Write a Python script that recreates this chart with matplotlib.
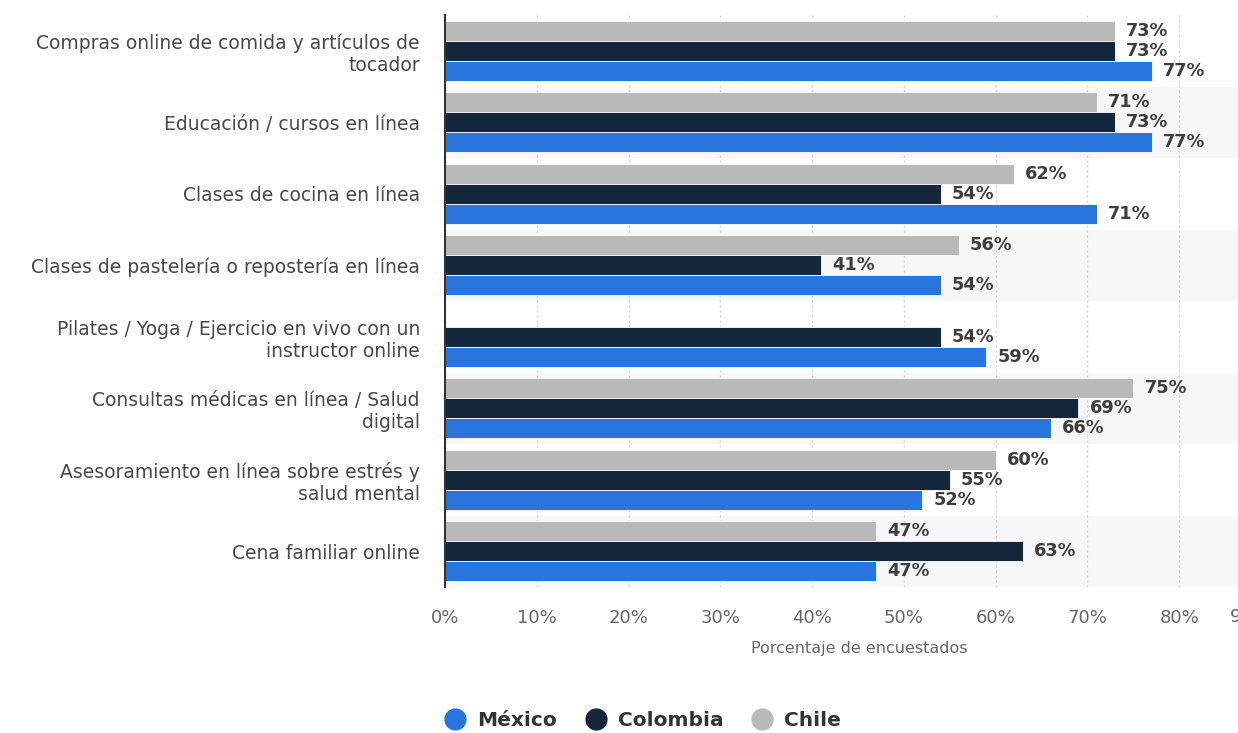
import numpy as np
import matplotlib
matplotlib.use("Agg")
import matplotlib.pyplot as plt
from matplotlib.lines import Line2D

categories = [
    "Compras online de comida y artículos de\ntocador",
    "Educación / cursos en línea",
    "Clases de cocina en línea",
    "Clases de pastelería o repostería en línea",
    "Pilates / Yoga / Ejercicio en vivo con un\ninstructor online",
    "Consultas médicas en línea / Salud\ndigital",
    "Asesoramiento en línea sobre estrés y\nsalud mental",
    "Cena familiar online",
]
chile = [73, 71, 62, 56, np.nan, 75, 60, 47]
colombia = [73, 73, 54, 41, 54, 69, 55, 63]
mexico = [77, 77, 71, 54, 59, 66, 52, 47]
series_names = ["México", "Colombia", "Chile"]
xticks = [0, 10, 20, 30, 40, 50, 60, 70, 80, 90]

colors = {"México": "#2876dd", "Colombia": "#13263c", "Chile": "#b9b9b9"}

plt.rcParams['font.family'] = ['DejaVu Sans']
fig = plt.figure(figsize=(12.38, 7.33), dpi=100)
ax = fig.add_axes([445/1238, 1-587/733, (1271-445)/1238, (587-15)/733])

y = np.arange(len(categories))
h = 0.28
offs = {"Chile": -h, "Colombia": 0.0, "México": h}
data = {"Chile": chile, "Colombia": colombia, "México": mexico}

for i in range(len(categories)):
    if i % 2 == 1:
        ax.axhspan(i - 0.5, i + 0.5, color="#f7f7f7", zorder=0, lw=0)

for name in ["Chile", "Colombia", "México"]:
    vals = np.array(data[name], dtype=float)
    ax.barh(y + offs[name], vals, height=h, color=colors[name],
            edgecolor="white", linewidth=0.6, zorder=2)
    for yi, v in zip(y, vals):
        if np.isnan(v):
            continue
        ax.annotate(f"{v:.0f}%", (v, yi + offs[name]), xytext=(8, 0),
                    textcoords="offset points", va="center", ha="left",
                    fontsize=12.8, fontweight="bold", color="#3d3d3d", zorder=3)

ax.set_ylim(len(categories) - 0.5, -0.5)
ax.set_xlim(0, 90)
ax.set_xticks(xticks)
# last label (90%) is shifted left to stay inside the figure, as in the reference
ax.set_xticklabels([f"{t}%" if t < 90 else "" for t in xticks])
ax.set_yticks(y)
ax.set_yticklabels(categories, fontsize=13.5, color="#484848", ha="right",
                   multialignment="right")
ax.tick_params(axis="x", length=0, pad=16, labelsize=13, labelcolor="#666666")
ax.tick_params(axis="y", length=0, pad=18)
ax.grid(axis="x", linestyle=(0, (1.5, 2.5)), color="#cccccc", linewidth=0.9, zorder=1)
ax.set_axisbelow(True)
for s in ["top", "right", "bottom"]:
    ax.spines[s].set_visible(False)
ax.spines["left"].set_color("#333333")
ax.spines["left"].set_linewidth(1.5)
ax.spines["left"].set_zorder(4)

fig.text(859/1238, 1-648/733, "Porcentaje de encuestados", ha="center", va="center",
         fontsize=11.5, color="#666666")
fig.text(1230/1238, 1-617/733, f"{xticks[-1]}%", ha="left", va="center",
         fontsize=13, color="#666666")

handles = [Line2D([], [], marker="o", linestyle="", markersize=15,
                  markerfacecolor=colors[n], markeredgecolor=colors[n]) for n in series_names]
leg = fig.legend(handles, series_names, loc="center", ncol=3,
                 bbox_to_anchor=(643/1238, 1-721/733), frameon=False,
                 prop={"weight": "bold", "size": 14.5}, handletextpad=0.6,
                 columnspacing=1.4, handlelength=1.0)
for t in leg.get_texts():
    t.set_color("#333333")

fig.savefig("out.png", dpi=100)
